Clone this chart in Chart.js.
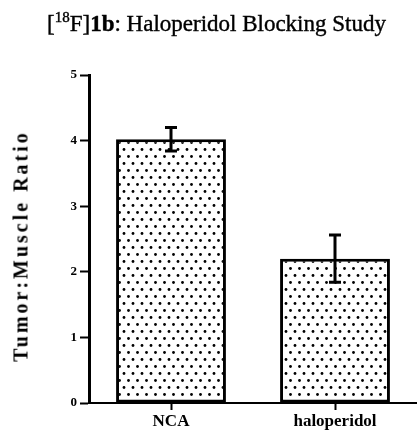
<!DOCTYPE html>
<html>
<head>
<meta charset="utf-8">
<script src="https://cdn.jsdelivr.net/npm/chart.js@4.4.0/dist/chart.umd.min.js"></script>
<style>
  html, body { margin: 0; padding: 0; background: #fff; overflow: hidden; }
  #wrap { position: relative; width: 417px; height: 433px; }
  #title {
    position: absolute; left: 47px; top: 11px;
    font-family: "Liberation Serif", "Times New Roman", serif;
    font-size: 23px; color: #000; white-space: nowrap;
    -webkit-text-stroke: 0.4px #000;
  }
  #title sup { font-size: 15px; vertical-align: 9px; line-height: 0; }
  #ylabel {
    position: absolute; left: 21px; top: 246px;
    transform: translate(-50%, -50%) rotate(-90deg);
    font-family: "Liberation Serif", "Times New Roman", serif;
    font-weight: bold; font-size: 20px; letter-spacing: 3px;
    white-space: nowrap; color: #000;
  }
</style>
</head>
<body>
<div id="wrap">
  <canvas id="chart" width="417" height="433"></canvas>
  <div id="title">[<sup>18</sup>F]<b>1b</b>: Haloperidol Blocking Study</div>
  <div id="ylabel">Tumor:Muscle Ratio</div>
</div>
<script>
// данные
const categories = ["NCA", "haloperidol"]
const ratios = [4.02, 2.2]
const errors = [0.18, 0.36]
const yTicks = [0, 1, 2, 3, 4, 5]

// точечная заливка столбцов
function dotPattern() {
  const c = document.createElement("canvas")
  c.width = 9
  c.height = 14
  const g = c.getContext("2d")
  g.fillStyle = "#fff"
  g.fillRect(0, 0, 9, 14)
  g.fillStyle = "#000"
  for (const [x, y] of [[2.5, 2.5], [7, 9.5]]) {
    g.beginPath()
    g.arc(x, y, 1.4, 0, Math.PI * 2)
    g.fill()
  }
  return g.createPattern(c, "repeat")
}

// планки погрешностей в виде буквы T
const errorBars = {
  id: "errorBars",
  afterDatasetsDraw(chart) {
    const { ctx, scales: { y } } = chart
    const meta = chart.getDatasetMeta(0)
    ctx.save()
    ctx.strokeStyle = "#000"
    ctx.lineWidth = 3
    meta.data.forEach((bar, i) => {
      const top = y.getPixelForValue(ratios[i] + errors[i])
      const bottom = y.getPixelForValue(ratios[i] - errors[i])
      ctx.beginPath()
      ctx.moveTo(bar.x, top)
      ctx.lineTo(bar.x, bottom)
      ctx.moveTo(bar.x - 6, top)
      ctx.lineTo(bar.x + 6, top)
      ctx.moveTo(bar.x - 6, bottom)
      ctx.lineTo(bar.x + 6, bottom)
      ctx.stroke()
    })
    ctx.restore()
  }
}

const serif = "'Liberation Serif', 'Times New Roman', serif"

new Chart(document.getElementById("chart"), {
  type: "bar",
  data: {
    labels: categories,
    datasets: [{
      data: ratios,
      backgroundColor: dotPattern(),
      borderColor: "#000",
      borderWidth: 3,
      borderSkipped: false,
      barPercentage: 0.67,
      categoryPercentage: 1
    }]
  },
  options: {
    responsive: false,
    animation: false,
    events: [],
    layout: { padding: { top: 75, right: 0, bottom: 0, left: 0 } },
    plugins: {
      legend: { display: false },
      tooltip: { enabled: false }
    },
    scales: {
      y: {
        min: 0,
        max: 5,
        afterFit(scale) { scale.width = 89 },
        afterBuildTicks(scale) { scale.ticks = yTicks.map(v => ({ value: v })) },
        border: { color: "#000", width: 3 },
        grid: { drawOnChartArea: false, drawTicks: true, tickLength: 9, tickColor: "#000", tickWidth: 2 },
        ticks: { color: "#000", padding: 3, font: { family: serif, size: 13, weight: "bold" } }
      },
      x: {
        offset: true,
        afterFit(scale) { scale.height = 30 },
        border: { color: "#000", width: 2 },
        grid: { offset: false, drawOnChartArea: false, drawTicks: true, tickLength: 7, tickColor: "#000", tickWidth: 2 },
        ticks: { color: "#000", padding: 1, font: { family: serif, size: 17, weight: "bold" } }
      }
    }
  },
  plugins: [errorBars]
})
</script>
</body>
</html>
